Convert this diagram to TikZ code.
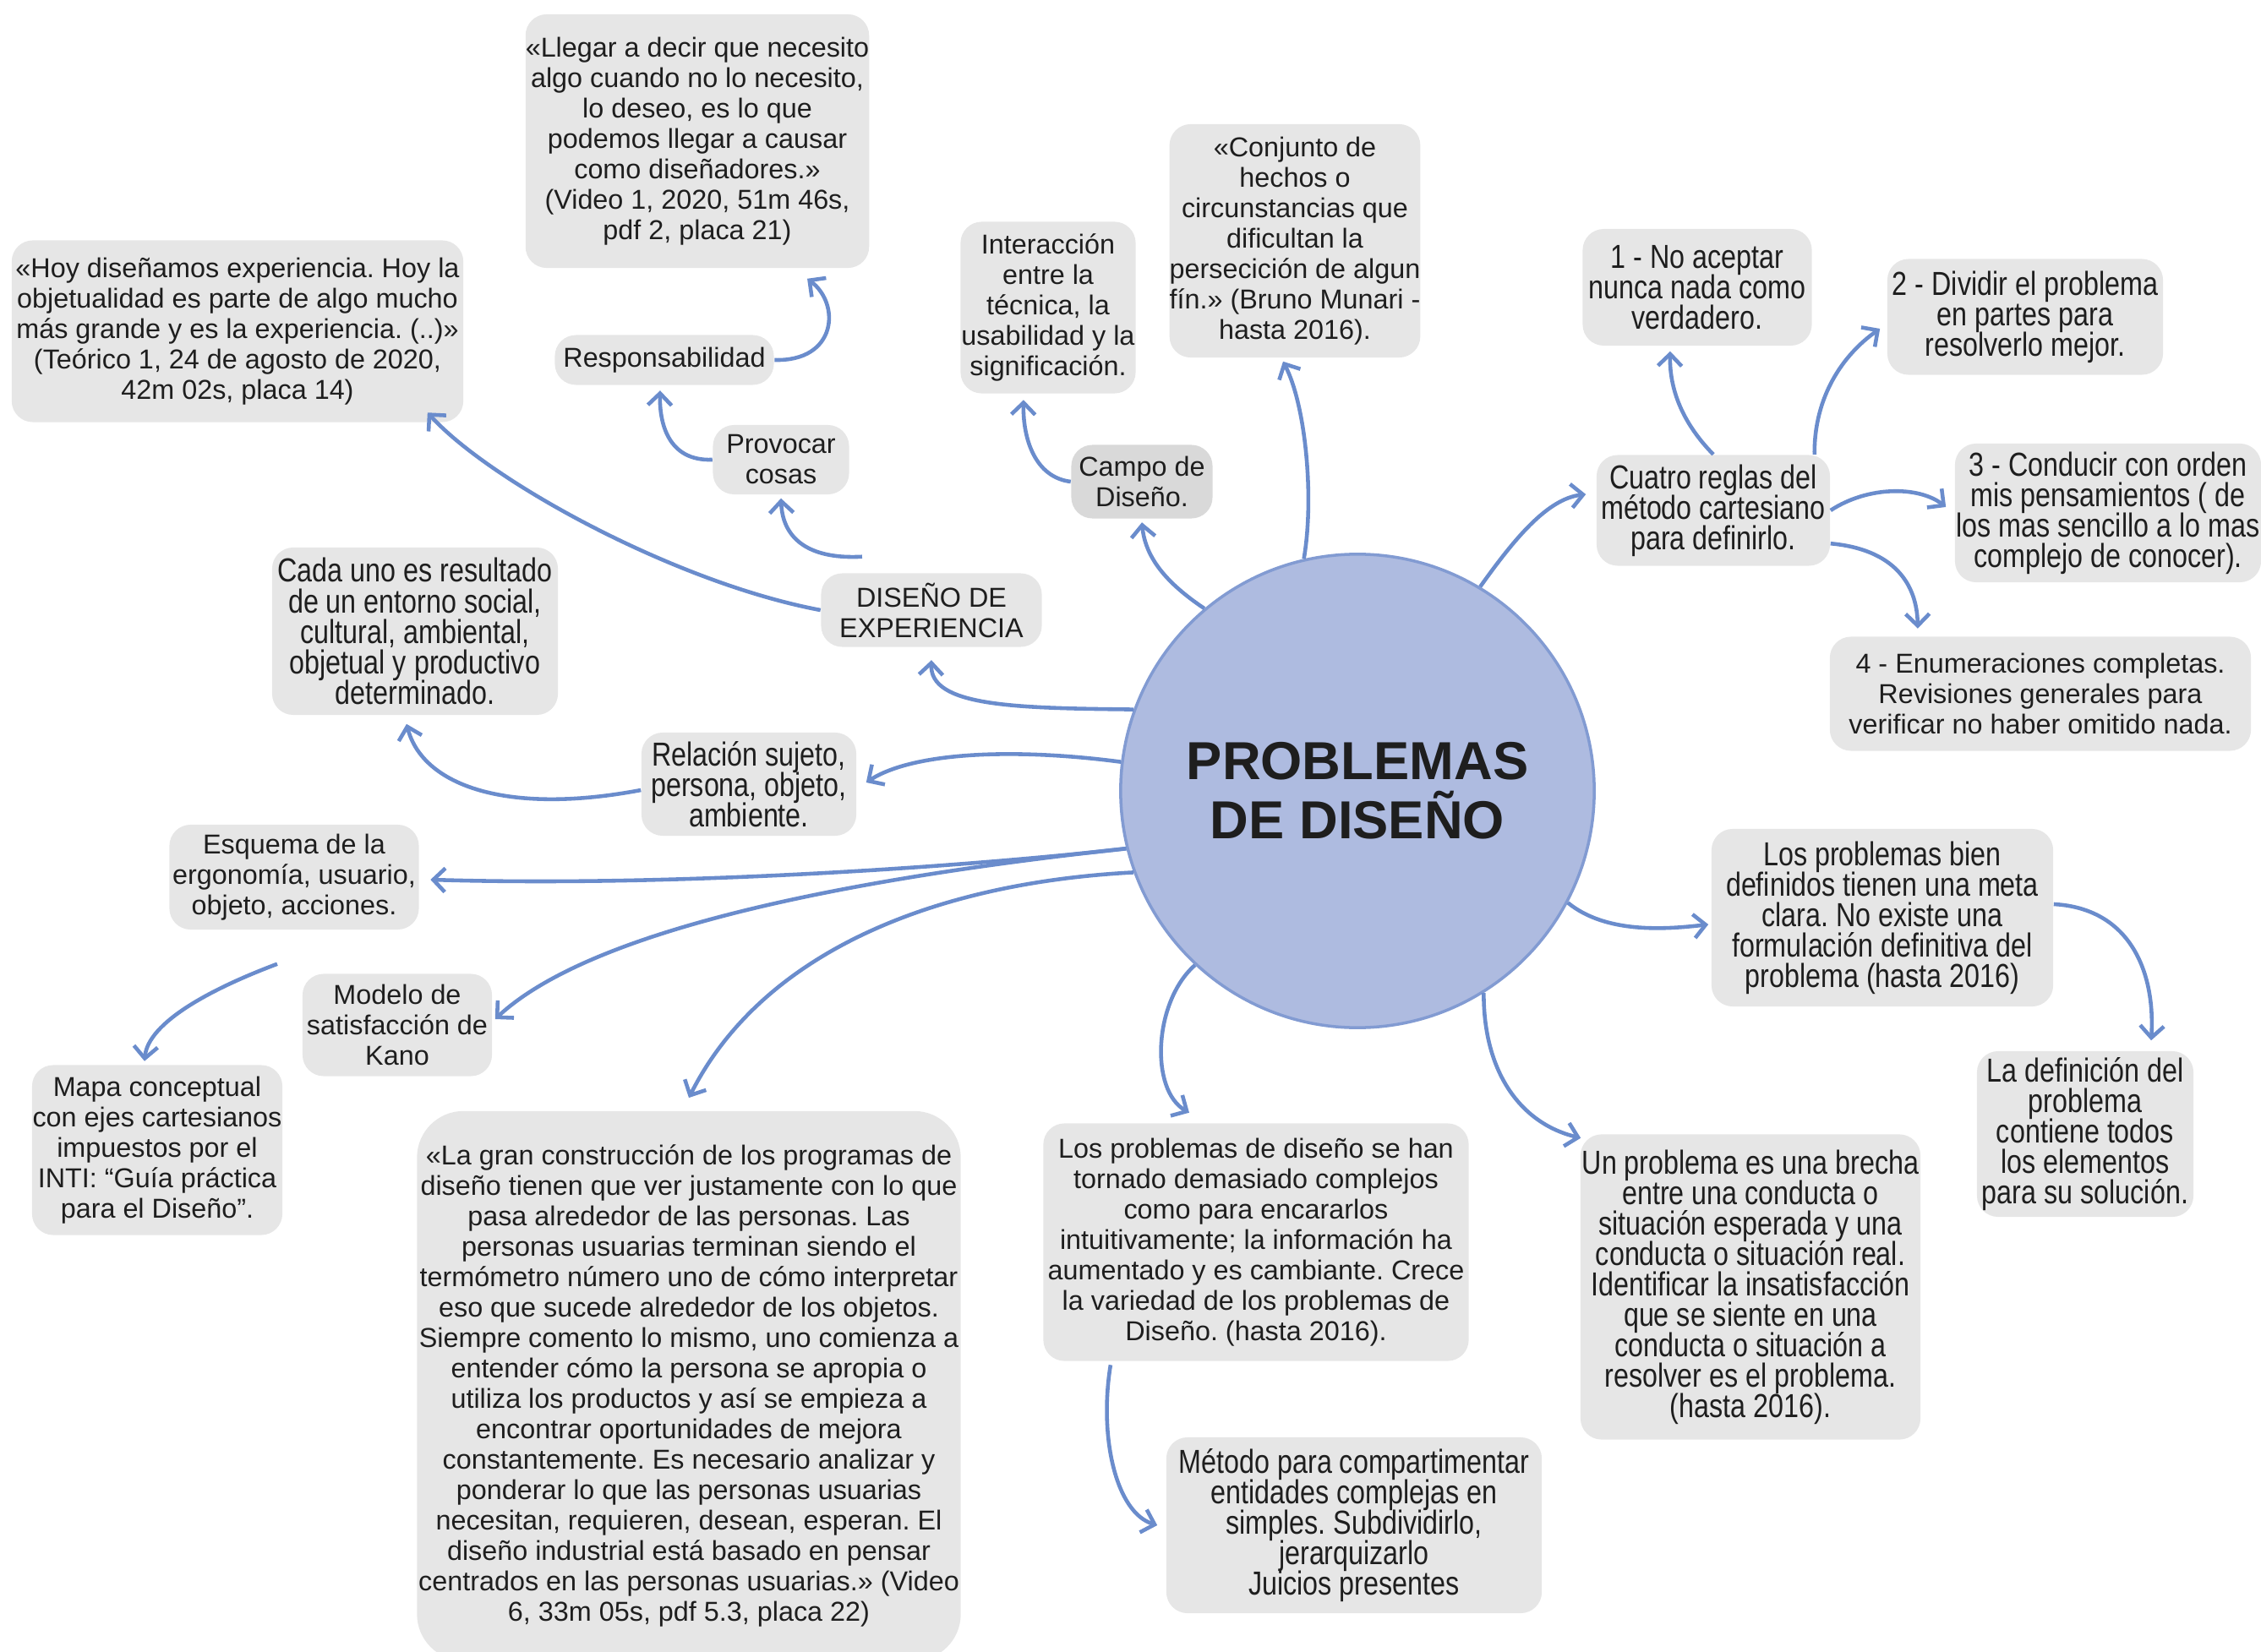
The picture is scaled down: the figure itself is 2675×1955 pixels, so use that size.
\documentclass[tikz,border=0pt]{standalone}
\usepackage{fontspec}
\setmainfont{Liberation Sans}
\newfontfamily\tallfont[FakeStretch=0.82]{Liberation Sans}
\usetikzlibrary{arrows.meta}
\definecolor{boxgray}{HTML}{E6E6E6}
\definecolor{campogray}{HTML}{D9D9D9}
\definecolor{circfill}{HTML}{AEBBE0}
\definecolor{circline}{HTML}{829BD2}
\definecolor{arrowblue}{HTML}{6A8CCC}
\definecolor{txt}{HTML}{1E1E1E}
\frenchspacing
\newcommand\nolineskipfix{\lineskiplimit=-20pt\relax\lineskip=0pt\relax}
\begin{document}
\begin{tikzpicture}[x=0.01cm,y=-0.01cm,
  box/.style={fill=boxgray, rounded corners=0.25cm, align=center, inner sep=0pt, text=txt, font=\fontsize{9.2}{10.25}\selectfont\nolineskipfix},
  tbox/.style={box, font=\tallfont\fontsize{11.2}{10.25}\selectfont\nolineskipfix},
  arr/.style={draw=arrowblue, line width=1.3pt, -{Straight Barb[length=4pt,width=8pt]}},
]
\useasboundingbox (0,0) rectangle (2675,1955);

% central circle
\node[circle, fill=circfill, draw=circline, line width=1pt, minimum size=5.6cm, align=center,
  font=\bfseries\fontsize{18}{20}\selectfont, text=txt] (c) at (1606,936) {PROBLEMAS\\DE DISEÑO};

% boxes
\node[box, minimum width=4.04cm, minimum height=3.00cm] (llegar) at (825,167)
 {«Llegar a decir que necesito\\algo cuando no lo necesito,\\lo deseo, es lo que\\podemos llegar a causar\\como diseñadores.»\\(Video 1, 2020, 51m 46s,\\pdf 2, placa 21)};
\node[box, minimum width=5.34cm, minimum height=2.15cm] (hoy) at (281,392)
 {«Hoy diseñamos experiencia. Hoy la\\objetualidad es parte de algo mucho\\más grande y es la experiencia. (..)»\\(Teórico 1, 24 de agosto de 2020,\\42m 02s, placa 14)};
\node[box, minimum width=2.59cm, minimum height=0.59cm] (resp) at (786,426) {Responsabilidad};
\node[box, minimum width=1.61cm, minimum height=0.82cm] (prov) at (924,544) {Provocar\\cosas};
\node[box, minimum width=2.61cm, minimum height=0.87cm] (dis) at (1102,722) {DISEÑO DE\\EXPERIENCIA};
\node[box, minimum width=2.07cm, minimum height=2.03cm] (inter) at (1240,364)
 {Interacción\\entre la\\técnica, la\\usabilidad y la\\significación.};
\node[box, fill=campogray, minimum width=1.67cm, minimum height=0.87cm] (campo) at (1351,570) {Campo de\\Diseño.};
\node[box, minimum width=2.96cm, minimum height=2.76cm] (conj) at (1532,285)
 {«Conjunto de\\hechos o\\circunstancias que\\dificultan la\\persecición de algun\\fín.» (Bruno Munari -\\hasta 2016).};
\node[tbox, minimum width=2.71cm, minimum height=1.38cm] (r1) at (2008,340)
 {1 - No aceptar\\nunca nada como\\verdadero.};
\node[tbox, minimum width=3.26cm, minimum height=1.37cm] (r2) at (2396,375)
 {2 - Dividir el problema\\en partes para\\resolverlo mejor.};
\node[tbox, minimum width=2.76cm, minimum height=1.31cm] (cuatro) at (2027,604)
 {Cuatro reglas del\\método cartesiano\\para definirlo.};
\node[tbox, minimum width=3.62cm, minimum height=1.64cm] (r3) at (2494,607)
 {3 - Conducir con orden\\mis pensamientos ( de\\los mas sencillo a lo mas\\complejo de conocer).};
\node[box, minimum width=4.98cm, minimum height=1.35cm] (r4) at (2414,821)
 {4 - Enumeraciones completas.\\Revisiones generales para\\verificar no haber omitido nada.};
\node[tbox, minimum width=3.38cm, minimum height=1.98cm] (cada) at (491,747)
 {Cada uno es resultado\\de un entorno social,\\cultural, ambiental,\\objetual y productivo\\determinado.};
\node[tbox, minimum width=2.54cm, minimum height=1.22cm] (rel) at (886,928)
 {Relación sujeto,\\persona, objeto,\\ambiente.};
\node[box, minimum width=2.95cm, minimum height=1.24cm] (esq) at (348,1038)
 {Esquema de la\\ergonomía, usuario,\\objeto, acciones.};
\node[box, minimum width=2.24cm, minimum height=1.21cm] (kano) at (470,1213)
 {Modelo de\\satisfacción de\\Kano};
\node[box, minimum width=2.96cm, minimum height=2.01cm] (mapa) at (186,1361)
 {Mapa conceptual\\con ejes cartesianos\\impuestos por el\\INTI: “Guía práctica\\para el Diseño”.};
\node[box, rounded corners=0.55cm, minimum width=6.43cm, minimum height=6.50cm] (gran) at (815,1640)
 {«La gran construcción de los programas de\\diseño tienen que ver justamente con lo que\\pasa alrededor de las personas. Las\\personas usuarias terminan siendo el\\termómetro número uno de cómo interpretar\\eso que sucede alrededor de los objetos.\\Siempre comento lo mismo, uno comienza a\\entender cómo la persona se apropia o\\utiliza los productos y así se empieza a\\encontrar oportunidades de mejora\\constantemente. Es necesario analizar y\\ponderar lo que las personas usuarias\\necesitan, requieren, desean, esperan. El\\diseño industrial está basado en pensar\\centrados en las personas usuarias.» (Video\\6, 33m 05s, pdf 5.3, placa 22)};
\node[box, minimum width=5.03cm, minimum height=2.81cm] (torn) at (1486,1470)
 {Los problemas de diseño se han\\tornado demasiado complejos\\como para encararlos\\intuitivamente; la información ha\\aumentado y es cambiante. Crece\\la variedad de los problemas de\\Diseño. (hasta 2016).};
\node[tbox, minimum width=4.44cm, minimum height=2.08cm] (metodo) at (1602,1805)
 {Método para compartimentar\\entidades complejas en\\simples. Subdividirlo,\\jerarquizarlo\\Juicios presentes};
\node[tbox, minimum width=4.02cm, minimum height=3.61cm] (brecha) at (2071,1523)
 {Un problema es una brecha\\entre una conducta o\\situación esperada y una\\conducta o situación real.\\Identificar la insatisfacción\\que se siente en una\\conducta o situación a\\resolver es el problema.\\(hasta 2016).};
\node[tbox, minimum width=4.04cm, minimum height=2.10cm] (bien) at (2227,1086)
 {Los problemas bien\\definidos tienen una meta\\clara. No existe una\\formulación definitiva del\\problema (hasta 2016)};
\node[tbox, minimum width=2.56cm, minimum height=1.96cm] (ladef) at (2467,1342)
 {La definición del\\problema\\contiene todos\\los elementos\\para su solución.};

% connectors
\draw[arr] (c.160) .. controls (1200,838) and (1100,836) .. ([yshift=-0.15cm]dis.south);
\draw[arr] (dis.west) .. controls (800,690) and (580,570) .. ([xshift=-0.43cm,yshift=0.12cm]hoy.south east);
\draw[arr] ([xshift=-0.82cm,yshift=0.19cm]dis.north) .. controls (960,662) and (926,640) .. ([yshift=-0.04cm]prov.south);
\draw[arr] (prov.west) .. controls (790,546) and (780,500) .. ([xshift=-0.05cm,yshift=-0.06cm]resp.south);
\draw[arr] (resp.east) .. controls (990,428) and (995,360) .. ([xshift=1.3cm,yshift=-0.12cm]llegar.south);
\draw[arr] (c.130) .. controls (1380,690) and (1355,660) .. ([yshift=-0.04cm]campo.south);
\draw[arr] (campo.west) .. controls (1225,565) and (1210,520) .. ([xshift=-0.29cm,yshift=-0.07cm]inter.south);
\draw[arr] (c.103) .. controls (1555,590) and (1545,480) .. ([xshift=-0.14cm,yshift=-0.04cm]conj.south);
\draw[arr] (c.59) .. controls (1790,640) and (1830,590) .. ([xshift=-0.12cm,yshift=0.19cm]cuatro.west);
\draw[arr] (cuatro.north) .. controls (1990,500) and (1975,460) .. ([xshift=-0.32cm,yshift=-0.06cm]r1.south);
\draw[arr] ([xshift=-0.19cm]cuatro.north east) .. controls (2146,470) and (2180,420) .. ([xshift=-0.08cm,yshift=-0.14cm]r2.west);
\draw[arr] (cuatro.east) .. controls (2210,575) and (2270,575) .. ([xshift=-0.1cm,yshift=0.07cm]r3.west);
\draw[arr] ([yshift=0.27cm]cuatro.south east) .. controls (2240,650) and (2268,690) .. ([xshift=-1.45cm,yshift=0.09cm]r4.north);
\draw[arr] (c.-28) .. controls (1900,1105) and (1970,1100) .. ([xshift=-0.03cm,yshift=-0.08cm]bien.west);
\draw[arr] ([yshift=0.16cm]bien.east) .. controls (2520,1075) and (2550,1150) .. ([xshift=0.78cm,yshift=0.12cm]ladef.north);
\draw[arr] (c.-58) .. controls (1755,1270) and (1800,1330) .. ([xshift=0.01cm,yshift=-0.05cm]brecha.north west);
\draw[arr] (c.227) .. controls (1365,1185) and (1360,1290) .. ([xshift=-0.79cm,yshift=0.12cm]torn.north);
\draw[arr] ([xshift=-1.72cm,yshift=-0.04cm]torn.south) .. controls (1300,1700) and (1320,1790) .. ([xshift=-0.1cm]metodo.west);
\draw[arr] (c.200) .. controls (1100,1045) and (900,1130) .. ([yshift=0.15cm]gran.north);
\draw[arr] (c.194) .. controls (1000,1040) and (700,1100) .. ([xshift=0.03cm,yshift=0.07cm]kano.east);
\draw[arr] (c.194) .. controls (1150,1025) and (800,1050) .. ([xshift=0.13cm,yshift=-0.03cm]esq.east);
\draw[arr] (c.173) .. controls (1200,885) and (1080,890) .. ([xshift=0.11cm,yshift=0.02cm]rel.east);
\draw[arr] ([yshift=-0.07cm]rel.west) .. controls (600,965) and (500,930) .. ([xshift=-0.1cm,yshift=-0.1cm]cada.south);
\draw[arr] ([xshift=-0.2cm,yshift=-0.4cm]esq.south) .. controls (250,1170) and (175,1210) .. ([xshift=-0.15cm,yshift=0.04cm]mapa.north);
\end{tikzpicture}
\end{document}
